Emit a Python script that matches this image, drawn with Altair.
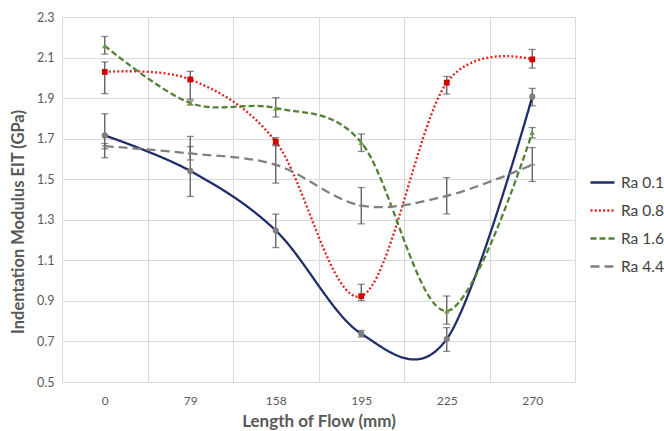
import altair as alt
import pandas as pd

categories = ["0", "79", "158", "195", "225", "270"]
series_names = ["Ra 0.1", "Ra 0.8", "Ra 1.6", "Ra 4.4"]

ra01 = [1.716, 1.541, 1.247, 0.738, 0.712, 1.907]
ra01_lo = [1.606, 1.415, 1.163, 0.722, 0.651, 1.862]
ra01_hi = [1.823, 1.711, 1.328, 0.754, 0.768, 1.948]

ra08 = [2.029, 1.992, 1.685, 0.923, 1.976, 2.091]
ra08_lo = [1.922, 1.895, 1.665, 0.901, 1.920, 2.048]
ra08_hi = [2.078, 2.032, 1.705, 0.982, 2.007, 2.140]

ra16 = [2.158, 1.876, 1.851, 1.681, 0.850, 1.731]
ra16_lo = [2.117, 1.866, 1.807, 1.637, 0.785, 1.704]
ra16_hi = [2.204, 1.886, 1.902, 1.723, 0.924, 1.755]

ra44 = [1.663, 1.627, 1.571, 1.370, 1.418, 1.571]
ra44_lo = [1.650, 1.595, 1.481, 1.280, 1.329, 1.489]
ra44_hi = [1.676, 1.661, 1.670, 1.459, 1.508, 1.656]

line_colors = ["#1f2d6b", "#e3221f", "#548235", "#808080"]
marker_colors = ["#7f7f7f", "#d00000", "#6a9a45", "#808080"]
dashes = [[1, 0], [2, 2.2], [6, 3], [9, 5]]
shapes = ["circle", "square", "triangle-up", "M-1,-0.3H1V0.3H-1Z"]
marker_sizes = [38, 26, 28, 28]

vals = [ra01, ra08, ra16, ra44]
los = [ra01_lo, ra08_lo, ra16_lo, ra44_lo]
his = [ra01_hi, ra08_hi, ra16_hi, ra44_hi]

rows = []
for s, v, lo, hi in zip(series_names, vals, los, his):
    for i in range(len(categories)):
        rows.append({"series": s, "marker": s + " ", "pos": i,
                     "value": v[i], "lo": lo[i], "hi": hi[i]})
df = pd.DataFrame(rows)
marker_domain = [s + " " for s in series_names]

W, H = 513, 365
FONT = "Lato"
GRID = "#d9d9d9"
TXT = "#595959"

label_list = "[" + ",".join("'" + c + "'" for c in categories) + "]"

x_enc = alt.X(
    "pos:Q",
    scale=alt.Scale(domain=[-0.5, len(categories) - 0.5], nice=False, zero=False),
    axis=alt.Axis(
        values=[i - 0.5 for i in range(len(categories) + 1)],
        grid=True, gridColor=GRID, gridWidth=1,
        ticks=False, domain=True, domainColor=GRID,
        labelOffset=W / len(categories) / 2,
        labelExpr=label_list + "[datum.value + 0.5] || ''",
        labelFlush=False, labelOverlap=False,
        labelFont=FONT, labelFontSize=12, labelColor=TXT, labelPadding=13,
        title="Length of Flow (mm)", titleFont=FONT, titleFontSize=17,
        titleFontWeight="bold", titleColor=TXT,
        titleY=44, titleBaseline="alphabetic",
    ),
)
y_enc = alt.Y(
    "value:Q",
    scale=alt.Scale(domain=[0.5, 2.3], nice=False, zero=False),
    axis=alt.Axis(
        values=[0.5, 0.7, 0.9, 1.1, 1.3, 1.5, 1.7, 1.9, 2.1, 2.3],
        format=".1f", grid=True, gridColor=GRID, ticks=False, domain=False,
        labelFont=FONT, labelFontSize=12.5, labelColor=TXT, labelPadding=8,
        title="Indentation Modulus EIT (GPa)", titleFont=FONT, titleFontSize=16.5,
        titleFontWeight="bold", titleColor=TXT, titleX=-36, titleY=H / 2 + 22,
    ),
)

base = alt.Chart(df)

err_rule = base.mark_rule(color=TXT, strokeWidth=1.3).encode(
    x=x_enc, y=alt.Y("lo:Q"), y2="hi:Q"
)
cap_lo = base.mark_tick(color=TXT, orient="horizontal", size=7, thickness=1.3).encode(
    x=x_enc, y=alt.Y("lo:Q")
)
cap_hi = base.mark_tick(color=TXT, orient="horizontal", size=7, thickness=1.3).encode(
    x=x_enc, y=alt.Y("hi:Q")
)

leg = alt.Legend(
    title=None, orient="none", legendX=W + 14, legendY=152,
    symbolType="stroke", symbolSize=576, symbolStrokeWidth=2.3,
    labelFont=FONT, labelFontSize=15.5, labelColor="#404040",
    rowPadding=6, labelOffset=5,
)

lines = base.mark_line(interpolate="cardinal", strokeWidth=2.3).encode(
    x=x_enc,
    y=y_enc,
    color=alt.Color("series:N", scale=alt.Scale(domain=series_names, range=line_colors), legend=leg),
    strokeDash=alt.StrokeDash("series:N", scale=alt.Scale(domain=series_names, range=dashes), legend=leg),
    detail="series:N",
)

points = base.mark_point(filled=True, opacity=1).encode(
    x=x_enc,
    y=y_enc,
    fill=alt.Fill("marker:N", scale=alt.Scale(domain=marker_domain, range=marker_colors), legend=None),
    shape=alt.Shape("marker:N", scale=alt.Scale(domain=marker_domain, range=shapes), legend=None),
    size=alt.Size("marker:N", scale=alt.Scale(domain=marker_domain, range=marker_sizes), legend=None),
)

chart = alt.layer(err_rule, cap_lo, cap_hi, lines, points).properties(
    width=W,
    height=H,
    autosize=alt.AutoSizeParams(type="none"),
    padding={"left": 62, "top": 17, "right": 664 - 62 - W, "bottom": 431 - 17 - H},
).configure_view(stroke=None).configure(background="white")

chart.save("out.html", embed_options={"renderer": "svg", "actions": False})
